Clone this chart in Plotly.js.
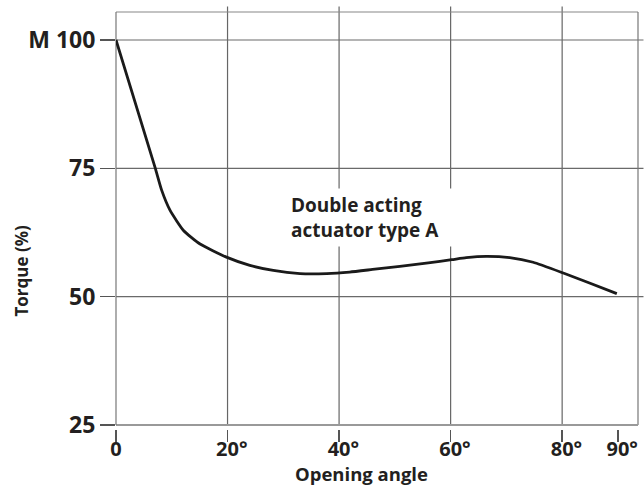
<!DOCTYPE html>
<html>
<head>
<meta charset="utf-8">
<script src="https://cdn.plot.ly/plotly-3.0.1.min.js"></script>
<style>html,body{margin:0;padding:0;background:#fff;}#chart{width:644px;height:485px;}</style>
</head>
<body>
<div id="chart"></div>
<script>
// ---- data ----
const angle  = [0, 7, 8.2, 9.7, 12.1, 15, 19.8, 24, 28.2, 33, 37.8, 41.9, 46, 50.9, 56, 60.2, 62.8, 66.4, 70.6, 74.8, 80.2, 84.9, 89.8];
const torque = [100, 75.2, 70.7, 66.8, 62.9, 60.3, 57.7, 56.1, 55.1, 54.5, 54.5, 54.8, 55.3, 55.9, 56.6, 57.2, 57.6, 57.85, 57.6, 56.7, 54.6, 52.65, 50.6];
const xTickVals = [0, 20, 40, 60, 80, 90];
const xTickText = ["0", "20°", "40°", "60°", "80°", "90°"];
const xGridVals = [20, 40, 60, 80];
const yTickVals = [25, 50, 75, 100];
const yTickText = ["25", "50", "75", "M 100"];
const yGridVals = [50, 75, 100];
const seriesLabel = "Double acting<br>actuator type A";
const xTitle = "Opening angle";
const yTitle = "Torque (%)";

const FONT = "Open Sans, sans-serif";
const TXT = "#231f20";
const yDomLo = 4 / 417.2;

// pad degree labels so digits centre on tick
const xTickTextPadded = xTickText.map(t => t.endsWith("°") ? '<span style="color:rgba(0,0,0,0)">°</span>' + t : t);

const shapes = [];
xGridVals.forEach(v => shapes.push({type: "line", xref: "x", yref: "paper", x0: v, x1: v, y0: yDomLo, y1: 1.0132, line: {color: "#666", width: 1.2}, layer: "below"}));
yGridVals.forEach(v => shapes.push({type: "line", xref: "paper", yref: "y", x0: 0, x1: 1.0105, y0: v, y1: v, line: {color: "#6a6a6a", width: 1.2}, layer: "below"}));
// frame
shapes.push({type: "line", xref: "paper", yref: "paper", x0: 0, x1: 1, y0: 1, y1: 1, line: {color: "#888", width: 1.2}, layer: "below"});
shapes.push({type: "line", xref: "paper", yref: "paper", x0: 1, x1: 1, y0: yDomLo, y1: 1, line: {color: "#777", width: 1.2}, layer: "below"});
shapes.push({type: "line", xref: "paper", yref: "paper", x0: 0, x1: 1, y0: yDomLo, y1: yDomLo, line: {color: "#999", width: 2}, layer: "below"});
shapes.push({type: "line", xref: "paper", yref: "paper", x0: 0, x1: 0, y0: yDomLo, y1: 1, line: {color: "#777", width: 1.2}, layer: "below"});

const trace = {
  x: angle, y: torque, type: "scatter", mode: "lines",
  line: {color: "#1a1a1a", width: 2.8, shape: "spline", smoothing: 0.5},
  hoverinfo: "skip", showlegend: false
};

const layout = {
  width: 644, height: 485,
  margin: {l: 116, r: 5.5, t: 11.5, b: 56.3, pad: 0},
  paper_bgcolor: "#fff", plot_bgcolor: "rgba(0,0,0,0)",
  showlegend: false,
  xaxis: {
    anchor: "free", position: 0,
    range: [0, 93.6], tickmode: "array", tickvals: xTickVals, ticktext: xTickTextPadded,
    ticks: "outside", ticklen: 11.5, tickwidth: 1.6, tickcolor: "#555",
    ticklabelstandoff: -10,
    showgrid: false, zeroline: false, showline: false,
    tickfont: {family: FONT, size: 20, weight: 700, color: TXT}
  },
  yaxis: {
    domain: [yDomLo, 1], anchor: "x",
    range: [25, 105.45], tickmode: "array", tickvals: yTickVals, ticktext: yTickText,
    ticks: "outside", ticklen: 15, tickwidth: 1.3, tickcolor: "#555",
    showgrid: false, zeroline: false, showline: false,
    tickfont: {family: FONT, size: 23, weight: 700, color: TXT}
  },
  shapes: shapes,
  annotations: [
    {text: yTitle, xref: "paper", yref: "paper", x: -0.18, y: 0.38, xanchor: "center", yanchor: "middle",
     textangle: -90, showarrow: false, font: {family: FONT, size: 17, weight: 700, color: TXT}},
    {text: xTitle, xref: "paper", yref: "paper", x: 0.471, y: -0.0726, xanchor: "center", yanchor: "top",
     showarrow: false, font: {family: FONT, size: 18.5, weight: 700, color: TXT}},
    {text: seriesLabel, xref: "x", yref: "y", x: 30.6, y: 71.1, xanchor: "left", yanchor: "top",
     align: "left", showarrow: false, bgcolor: "#fff", borderpad: 3, width: 165,
     font: {family: FONT, size: 19, weight: 700, color: TXT}}
  ]
};

Plotly.newPlot("chart", [trace], layout, {staticPlot: true, displayModeBar: false});
</script>
</body>
</html>
